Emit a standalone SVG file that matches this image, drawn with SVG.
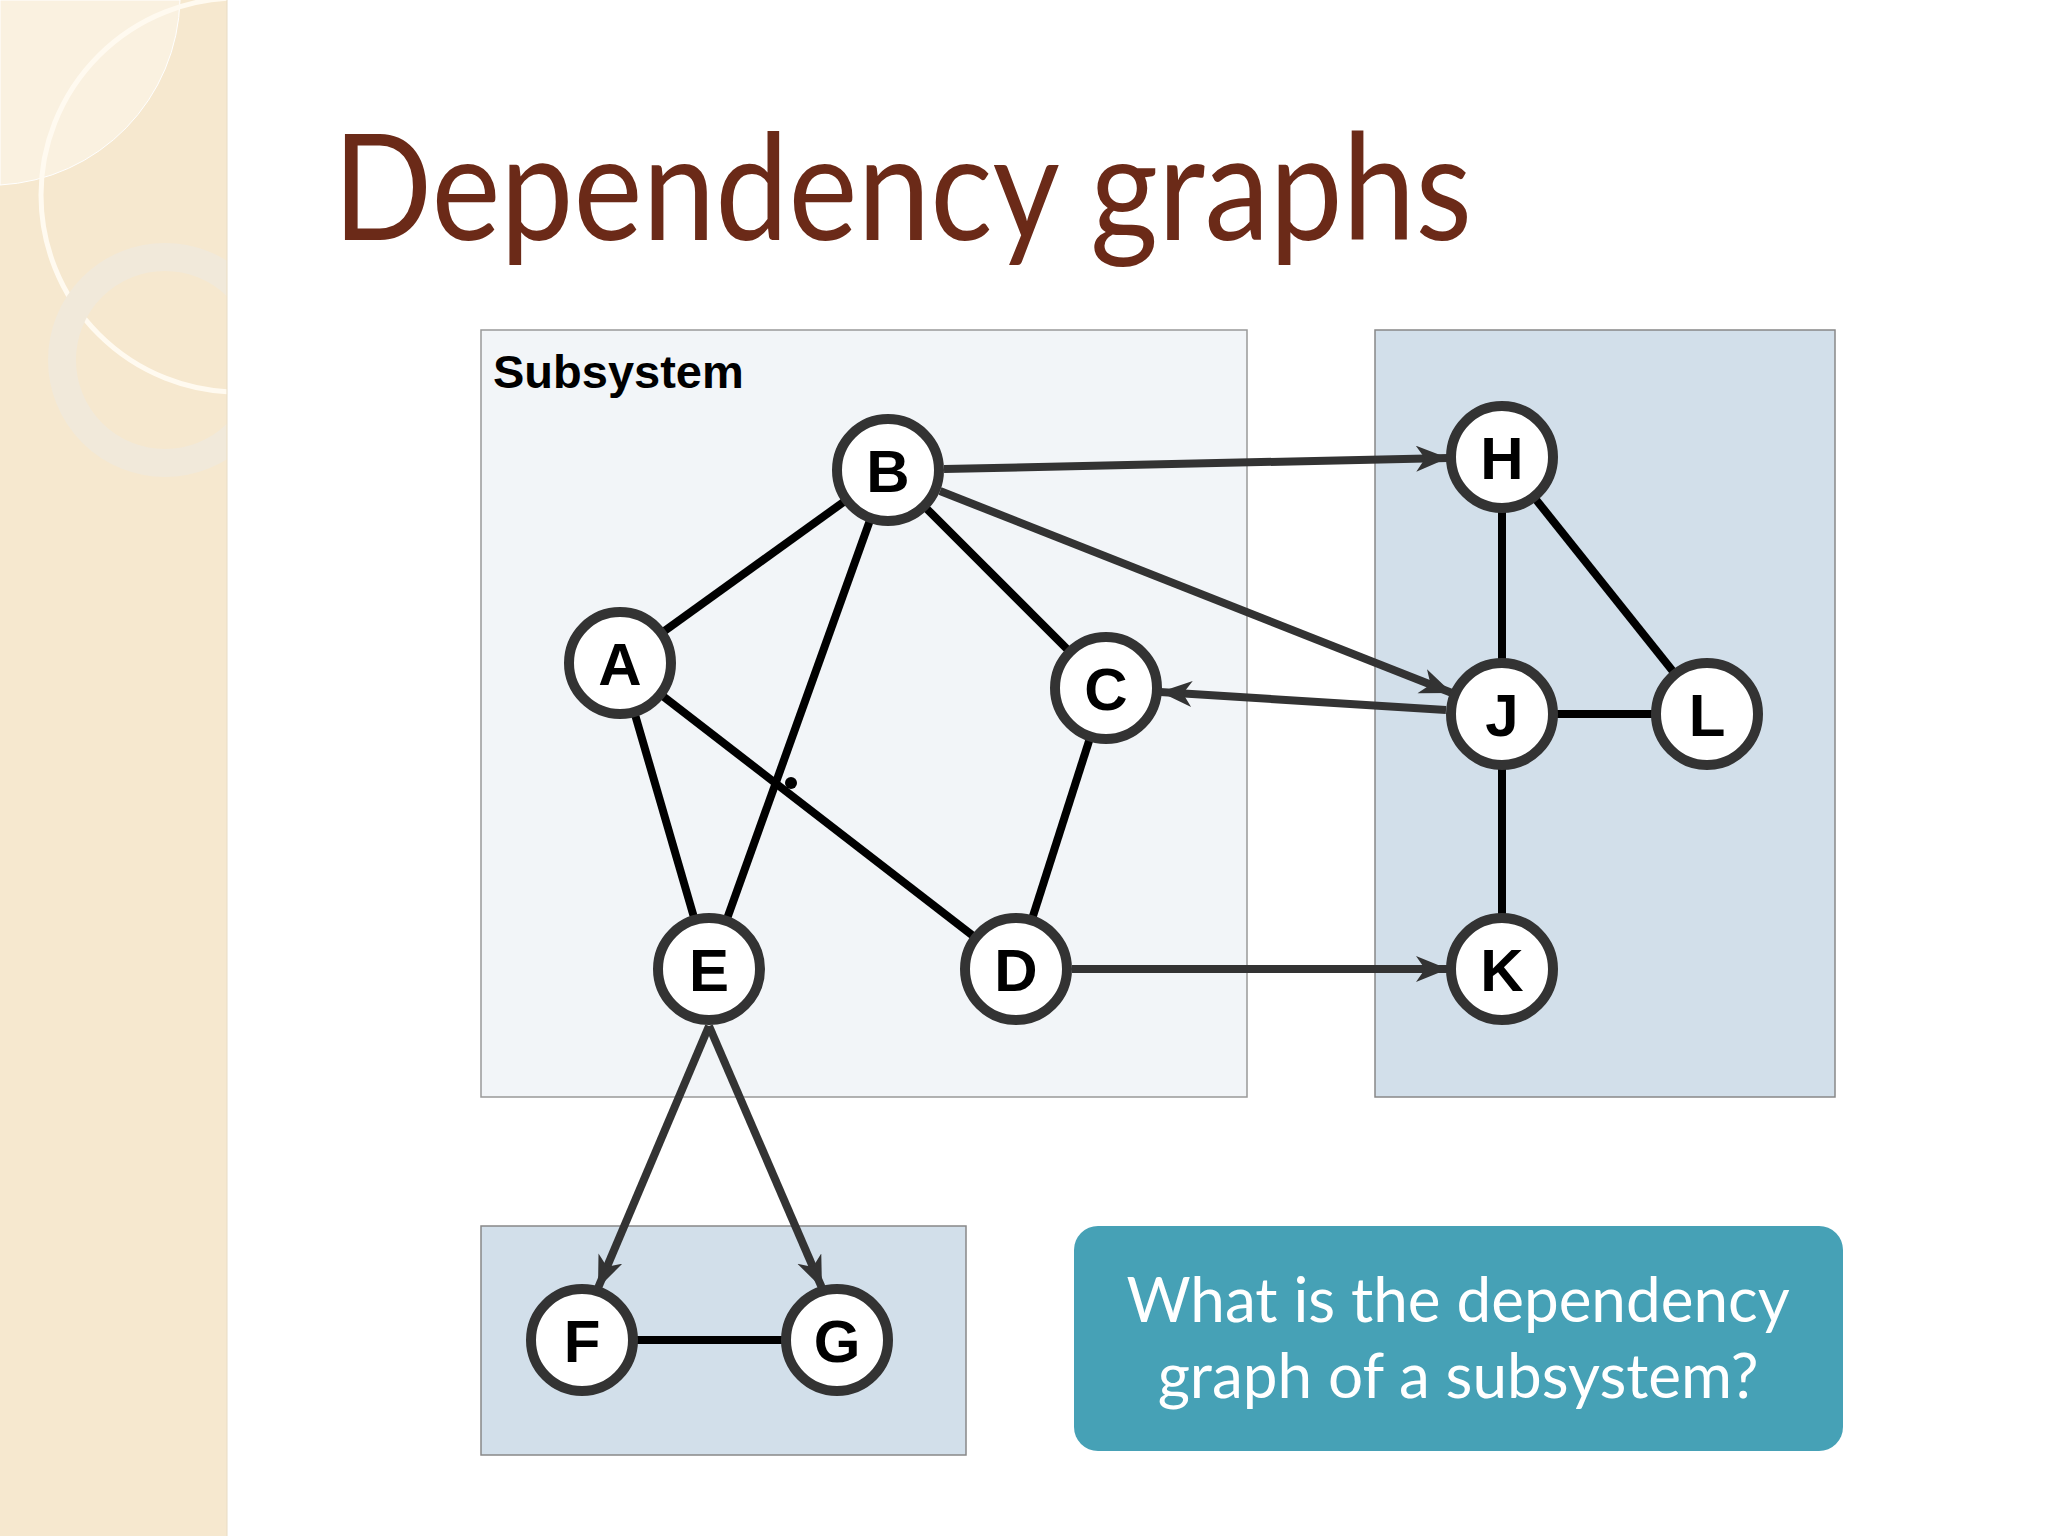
<svg xmlns="http://www.w3.org/2000/svg" width="2048" height="1536" viewBox="0 0 2048 1536">
<defs>
<style>
.n circle{fill:#fff;stroke:#333;stroke-width:10}
.n text{font-family:"Liberation Sans",Arial,sans-serif;font-weight:bold;font-size:60px;text-anchor:middle;fill:#000}
.u{stroke:#000;stroke-width:8;fill:none}
.a{stroke:#333;stroke-width:8;fill:none;marker-end:url(#ah)}
</style>
<marker id="ah" markerUnits="userSpaceOnUse" markerWidth="34" markerHeight="28" refX="32" refY="13" orient="auto" viewBox="0 0 34 28">
<path d="M0,0 L32,13 L0,26 L9,13 z" fill="#333"/>
</marker>
<clipPath id="lp"><rect x="0" y="0" width="227" height="1536"/></clipPath>
</defs>
<rect width="2048" height="1536" fill="#fff"/>
<g id="left-panel">
<rect x="0" y="0" width="227" height="1536" fill="#f6e8cf"/>
<g clip-path="url(#lp)">
<path d="M0,0 L180,0 A190,190 0 0 1 0,185 z" fill="#faf1e0" stroke="#fff" stroke-width="1"/>
<circle cx="238" cy="195" r="197" fill="none" stroke="#fffaf0" stroke-width="5"/>
<circle cx="165" cy="360" r="103" fill="none" stroke="#f1e9da" stroke-width="28"/>
</g>
<line x1="227" y1="0" x2="227" y2="1536" stroke="#e8dcc4" stroke-width="1"/>
</g>
<text x="333" y="240" font-family="Lato,'Open Sans',sans-serif" font-size="148" fill="#6b2a18" textLength="1139" lengthAdjust="spacingAndGlyphs">Dependency graphs</text>
<g id="subsystem">
<rect x="481" y="330" width="766" height="767" fill="#f2f5f8" stroke="#999" stroke-width="1.5"/>
<text x="493" y="388" font-family="'Liberation Sans',Arial,sans-serif" font-weight="bold" font-size="47">Subsystem</text>
</g>
<g id="right-box"><rect x="1375" y="330" width="460" height="767" fill="#d2dfea" stroke="#888" stroke-width="1.5"/></g>
<g id="bottom-box"><rect x="481" y="1226" width="485" height="229" fill="#d2dfea" stroke="#888" stroke-width="1.5"/></g>
<g id="callout">
<rect x="1074" y="1226" width="769" height="225" rx="24" fill="#46a1b6"/>
<text x="1458" y="1322" font-family="Lato,'Open Sans',sans-serif" font-size="62" fill="#fff" text-anchor="middle">What is the dependency</text>
<text x="1458" y="1398" font-family="Lato,'Open Sans',sans-serif" font-size="62" fill="#fff" text-anchor="middle">graph of a subsystem?</text>
</g>
<g id="connectors">
<line class="u" x1="620" y1="663" x2="888" y2="470"/>
<line class="u" x1="888" y1="470" x2="709" y2="969"/>
<line class="u" x1="888" y1="470" x2="1106" y2="688"/>
<line class="u" x1="620" y1="663" x2="709" y2="969"/>
<line class="u" x1="620" y1="663" x2="1016" y2="969"/>
<line class="u" x1="1106" y1="688" x2="1016" y2="969"/>
<line class="u" x1="1502" y1="457" x2="1502" y2="969"/>
<line class="u" x1="1502" y1="457" x2="1707" y2="714"/>
<line class="u" x1="1502" y1="714" x2="1707" y2="714"/>
<line class="u" x1="582" y1="1340" x2="837" y2="1340"/>
<circle cx="791" cy="783" r="6" fill="#000"/>
<line class="a" x1="944" y1="469" x2="1448" y2="458"/>
<line class="a" x1="940" y1="491" x2="1452" y2="693"/>
<line class="a" x1="1446" y1="710" x2="1160" y2="692"/>
<line class="a" x1="1072" y1="969" x2="1448" y2="969"/>
<line class="a" x1="709" y1="1026" x2="598" y2="1288"/>
<line class="a" x1="709" y1="1026" x2="822" y2="1288"/>
</g>
<g id="node-A" class="n"><circle cx="620" cy="663" r="51"/><text x="620" y="685">A</text></g>
<g id="node-B" class="n"><circle cx="888" cy="470" r="51"/><text x="888" y="492">B</text></g>
<g id="node-C" class="n"><circle cx="1106" cy="688" r="51"/><text x="1106" y="710">C</text></g>
<g id="node-D" class="n"><circle cx="1016" cy="969" r="51"/><text x="1016" y="991">D</text></g>
<g id="node-E" class="n"><circle cx="709" cy="969" r="51"/><text x="709" y="991">E</text></g>
<g id="node-F" class="n"><circle cx="582" cy="1340" r="51"/><text x="582" y="1362">F</text></g>
<g id="node-G" class="n"><circle cx="837" cy="1340" r="51"/><text x="837" y="1362">G</text></g>
<g id="node-H" class="n"><circle cx="1502" cy="457" r="51"/><text x="1502" y="479">H</text></g>
<g id="node-J" class="n"><circle cx="1502" cy="714" r="51"/><text x="1502" y="736">J</text></g>
<g id="node-K" class="n"><circle cx="1502" cy="969" r="51"/><text x="1502" y="991">K</text></g>
<g id="node-L" class="n"><circle cx="1707" cy="714" r="51"/><text x="1707" y="736">L</text></g>
</svg>
